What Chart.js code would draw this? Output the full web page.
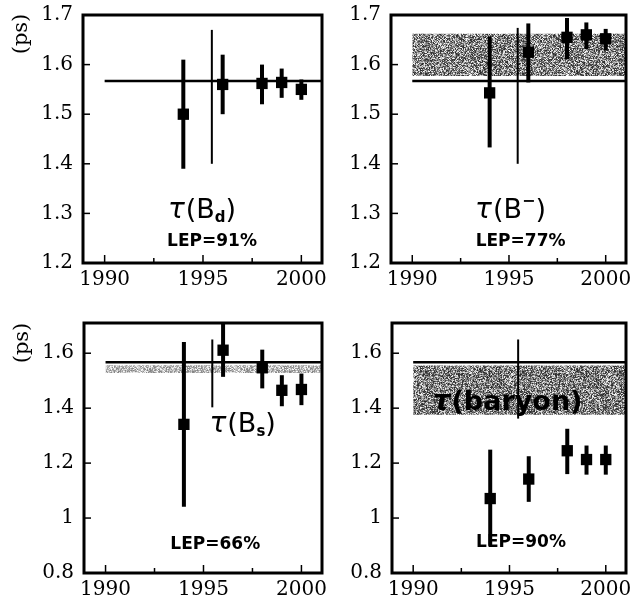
<!DOCTYPE html>
<html>
<head>
<meta charset="utf-8">
<script src="https://cdn.jsdelivr.net/npm/chart.js@4.4.1/dist/chart.umd.min.js"></script>
<style>
  html, body { margin: 0; padding: 0; background: #fff; }
  #wrap { position: relative; width: 635px; height: 598px; overflow: hidden; }
  #wrap canvas { position: absolute; }
  .unit {
    position: absolute; width: 60px; height: 24px; line-height: 24px;
    margin-left: -30px; margin-top: -12px; text-align: center;
    font: 21px 'DejaVu Serif'; color: #000;
    transform: rotate(-90deg);
  }
</style>
</head>
<body>
<div id="wrap">
  <canvas id="c-bd" width="330" height="298" style="left:0;top:0"></canvas>
  <canvas id="c-bm" width="305" height="298" style="left:330px;top:0"></canvas>
  <canvas id="c-bs" width="330" height="300" style="left:0;top:298px"></canvas>
  <canvas id="c-lb" width="305" height="300" style="left:330px;top:298px"></canvas>
  <div class="unit" style="left:20px;top:34px">(ps)</div>
  <div class="unit" style="left:21px;top:343px">(ps)</div>
</div>
<script>
// ===== DATA =====
const years = [1994, 1996, 1998, 1999, 2000];
const xTicks = [1990, 1992.5, 1995, 1997.5, 2000];
const ticksTop = [1.2, 1.3, 1.4, 1.5, 1.6, 1.7];
const ticksBottom = [0.8, 1.0, 1.2, 1.4, 1.6];
const refLifetime = 1.567;   // reference line, same in all panels
const thinYear = 1995.45;    // the single thin bar without a marker

// tau(B_d)
const bdVal = [1.50, 1.56, 1.562, 1.564, 1.55];
const bdLo  = [1.39, 1.50, 1.52, 1.533, 1.529];
const bdHi  = [1.61, 1.62, 1.60, 1.592, 1.57];
const bdThin = [1.40, 1.67];

// tau(B-)
const bmVal = [1.543, 1.625, 1.655, 1.66, 1.652];
const bmLo  = [1.433, 1.564, 1.611, 1.631, 1.628];
const bmHi  = [1.657, 1.683, 1.694, 1.685, 1.672];
const bmThin = [1.40, 1.674];
const bmBand = [1.577, 1.662];

// tau(Bs)
const bsVal = [1.341, 1.611, 1.547, 1.465, 1.468];
const bsLo  = [1.041, 1.514, 1.472, 1.407, 1.411];
const bsHi  = [1.641, 1.72, 1.613, 1.52, 1.526];
const bsThin = [1.403, 1.65];
const bsBand = [1.528, 1.556];

// tau(baryon)
const lbVal = [1.071, 1.142, 1.245, 1.213, 1.213];
const lbLo  = [0.899, 1.059, 1.16, 1.158, 1.158];
const lbHi  = [1.249, 1.225, 1.325, 1.264, 1.264];
const lbThin = [1.362, 1.65];
const lbBand = [1.376, 1.555];

const X_MIN = 1988.9, X_MAX = 2001.05;
const SANS = 'DejaVu Sans', SERIF = 'DejaVu Serif';

// grey stipple used for the average bands
function stipple(ctx, lo, hi) {
  const c = document.createElement('canvas');
  c.width = 97; c.height = 89;
  const g = c.getContext('2d');
  const img = g.createImageData(c.width, c.height);
  for (let j = 0; j < c.height; j++) {
    for (let i = 0; i < c.width; i++) {
      const s = Math.sin(i * 12.9898 + j * 78.233) * 43758.5453;
      const h = s - Math.floor(s);
      const v = Math.round(lo + h * h * 0.35 * (hi - lo) + h * 0.65 * (hi - lo));
      const k = (j * c.width + i) * 4;
      img.data[k] = img.data[k + 1] = img.data[k + 2] = v;
      img.data[k + 3] = 255;
    }
  }
  g.putImageData(img, 0, 0);
  return ctx.createPattern(c, 'repeat');
}

function drawParts(ctx, parts, cx, baseline) {
  let w = 0;
  parts.forEach(p => { ctx.font = p.f; w += ctx.measureText(p.t).width + (p.gap || 0); });
  let x = cx - w / 2;
  ctx.textAlign = 'left';
  ctx.textBaseline = 'alphabetic';
  parts.forEach(p => {
    ctx.font = p.f;
    ctx.fillText(p.t, x, baseline + (p.dy || 0));
    x += ctx.measureText(p.t).width + (p.gap || 0);
  });
}

// frame, inward ticks, error bars and text for one panel
function makeDecor(cfg) {
  return {
    id: 'panelDecor',
    afterDatasetsDraw(chart) {
      const { ctx, chartArea: a, scales: { x, y } } = chart;
      ctx.save();
      ctx.beginPath();
      ctx.rect(a.left, a.top, a.right - a.left, a.bottom - a.top);
      ctx.clip();
      ctx.strokeStyle = '#000';
      ctx.lineCap = 'butt';

      ctx.lineWidth = 2;
      const tx = x.getPixelForValue(thinYear);
      ctx.beginPath();
      ctx.moveTo(tx, y.getPixelForValue(cfg.thin[0]));
      ctx.lineTo(tx, y.getPixelForValue(cfg.thin[1]));
      ctx.stroke();

      ctx.lineWidth = 4;
      years.forEach((yr, i) => {
        const px = x.getPixelForValue(yr);
        ctx.beginPath();
        ctx.moveTo(px, y.getPixelForValue(cfg.lo[i]));
        ctx.lineTo(px, y.getPixelForValue(cfg.hi[i]));
        ctx.stroke();
      });
      ctx.restore();

      ctx.save();
      ctx.strokeStyle = '#000';
      ctx.lineWidth = 1.5;
      cfg.yTicks.forEach(v => {
        const py = y.getPixelForValue(v);
        ctx.beginPath();
        ctx.moveTo(a.left, py);
        ctx.lineTo(a.left + 7, py);
        ctx.stroke();
      });
      xTicks.forEach(v => {
        const px = x.getPixelForValue(v);
        ctx.beginPath();
        ctx.moveTo(px, a.bottom);
        ctx.lineTo(px, a.bottom - (v % 5 === 0 ? 8 : 5));
        ctx.stroke();
      });
      ctx.lineWidth = 3;
      ctx.strokeRect(a.left, a.top, a.right - a.left, a.bottom - a.top);

      ctx.fillStyle = '#000';
      drawParts(ctx, cfg.title, x.getPixelForValue(cfg.titleAt[0]), y.getPixelForValue(cfg.titleAt[1]));
      ctx.font = 'bold 17px ' + SANS;
      ctx.textAlign = 'center';
      ctx.textBaseline = 'middle';
      ctx.fillText(cfg.lep, x.getPixelForValue(cfg.lepAt[0]), y.getPixelForValue(cfg.lepAt[1]));
      ctx.restore();
    }
  };
}

function buildPanel(id, cfg) {
  const canvas = document.getElementById(id);
  const ctx = canvas.getContext('2d');
  const datasets = [];
  if (cfg.band) {
    const fillStyle = stipple(ctx, cfg.shade[0], cfg.shade[1]);
    datasets.push({
      type: 'line', order: 3,
      data: [{ x: 1990, y: cfg.band[1] }, { x: X_MAX, y: cfg.band[1] }],
      borderWidth: 0, pointRadius: 0, fill: '+1', backgroundColor: fillStyle
    });
    datasets.push({
      type: 'line', order: 3,
      data: [{ x: 1990, y: cfg.band[0] }, { x: X_MAX, y: cfg.band[0] }],
      borderWidth: 0, pointRadius: 0, fill: false
    });
  }
  datasets.push({
    type: 'line', order: 2,
    data: [{ x: 1990, y: refLifetime }, { x: X_MAX, y: refLifetime }],
    borderColor: '#000', borderWidth: 2.5, pointRadius: 0, fill: false
  });
  datasets.push({
    type: 'scatter', order: 0,
    data: years.map((yr, i) => ({ x: yr, y: cfg.val[i] })),
    pointStyle: 'rect', pointRadius: 8, backgroundColor: '#000', borderWidth: 0
  });

  return new Chart(ctx, {
    type: 'scatter',
    data: { datasets },
    options: {
      responsive: false,
      animation: false,
      layout: { padding: { top: cfg.pad[0], right: cfg.pad[1], left: 0, bottom: 0 } },
      plugins: { legend: { display: false }, tooltip: { enabled: false } },
      scales: {
        x: {
          type: 'linear', min: X_MIN, max: X_MAX,
          grid: { display: false, drawTicks: false },
          border: { display: false },
          afterBuildTicks: s => { s.ticks = xTicks.map(v => ({ value: v })); },
          afterFit: s => { s.height = cfg.xHeight; s.paddingLeft = 0; s.paddingRight = 0; },
          ticks: {
            autoSkip: false, maxRotation: 0, padding: 5, color: '#000',
            font: { family: SERIF, size: 20 },
            callback: v => (v % 5 === 0 ? String(v) : '')
          }
        },
        y: {
          type: 'linear', min: cfg.yMin, max: cfg.yMax,
          grid: { display: false, drawTicks: false },
          border: { display: false },
          afterBuildTicks: s => { s.ticks = cfg.yTicks.map(v => ({ value: v })); },
          afterFit: s => { s.width = cfg.yWidth; s.paddingTop = 0; s.paddingBottom = 0; },
          ticks: {
            autoSkip: false, padding: 10, color: '#000',
            font: { family: SERIF, size: 20 },
            callback: v => String(+v.toFixed(1))
          }
        }
      }
    },
    plugins: [makeDecor(cfg)]
  });
}

const tau = { t: 'τ', f: 'italic 28px ' + SANS, gap: 1 };
const main = f => ({ t: f, f: '27px ' + SANS });

buildPanel('c-bd', {
  val: bdVal, lo: bdLo, hi: bdHi, thin: bdThin,
  yMin: 1.2, yMax: 1.7, yTicks: ticksTop,
  pad: [15, 8], yWidth: 83, xHeight: 35,
  title: [tau, main('(B'), { t: 'd', f: 'bold 15px ' + SANS, dy: 4 }, main(')')],
  titleAt: [1994.95, 1.291],
  lep: 'LEP=91%', lepAt: [1995.46, 1.2425]
});

buildPanel('c-bm', {
  val: bmVal, lo: bmLo, hi: bmHi, thin: bmThin, band: bmBand, shade: [40, 255],
  yMin: 1.2, yMax: 1.7, yTicks: ticksTop,
  pad: [15, 9], yWidth: 61, xHeight: 35,
  title: [tau, main('(B'), { t: '−', f: 'bold 16px ' + SANS, dy: -12 }, main(')')],
  titleAt: [1995.08, 1.291],
  lep: 'LEP=77%', lepAt: [1995.6, 1.2425]
});

buildPanel('c-bs', {
  val: bsVal, lo: bsLo, hi: bsHi, thin: bsThin, band: bsBand, shade: [130, 255],
  yMin: 0.8, yMax: 1.71, yTicks: ticksBottom,
  pad: [25, 7], yWidth: 84, xHeight: 25,
  title: [tau, main('(B'), { t: 's', f: 'bold 15px ' + SANS, dy: 4 }, main(')')],
  titleAt: [1997.0, 1.313],
  lep: 'LEP=66%', lepAt: [1995.6, 0.905]
});

buildPanel('c-lb', {
  val: lbVal, lo: lbLo, hi: lbHi, thin: lbThin, band: lbBand, shade: [40, 245],
  yMin: 0.8, yMax: 1.71, yTicks: ticksBottom,
  pad: [25, 9], yWidth: 62, xHeight: 25,
  title: [{ t: 'τ', f: 'italic bold 28px ' + SANS, gap: 1 }, { t: '(baryon)', f: 'bold 27px ' + SANS }],
  titleAt: [1994.9, 1.393],
  lep: 'LEP=90%', lepAt: [1995.6, 0.91]
});
</script>
</body>
</html>
